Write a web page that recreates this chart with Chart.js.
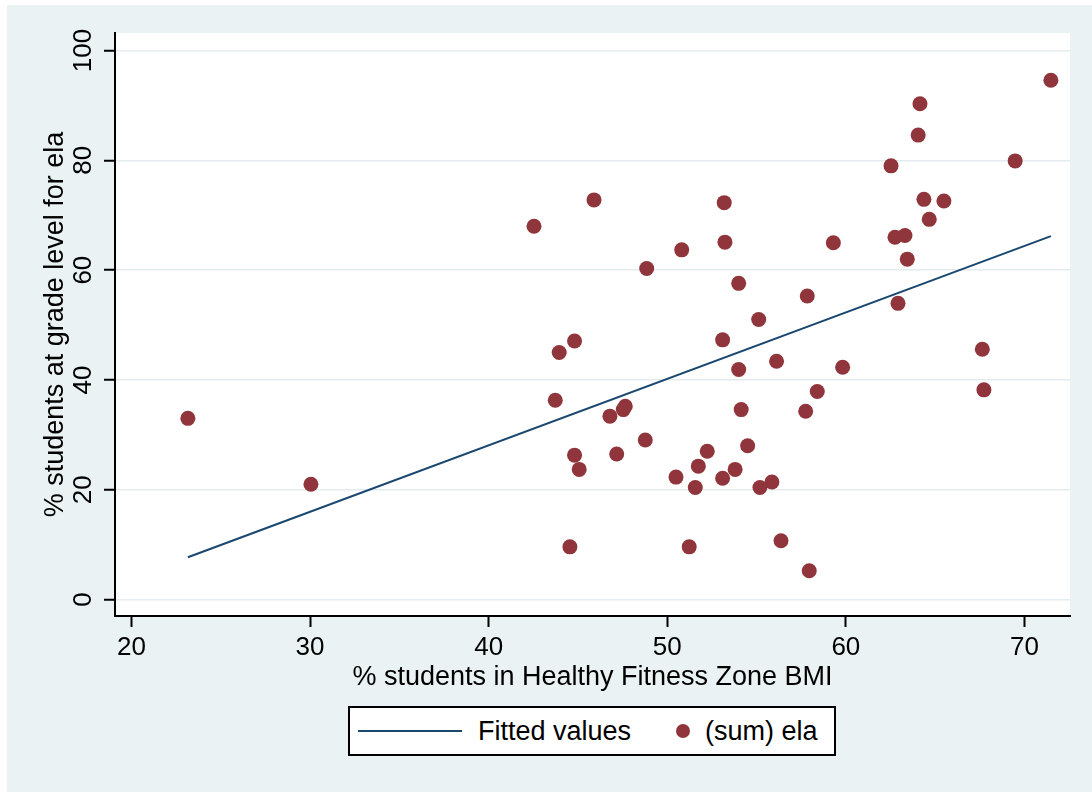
<!DOCTYPE html>
<html>
<head>
<meta charset="utf-8">
<script src="https://cdn.jsdelivr.net/npm/chart.js@4/dist/chart.umd.min.js"></script>
<style>
  body { margin: 0; background: #fff; }
  #wrap { position: relative; width: 1092px; height: 792px; }
  #legend {
    position: absolute; left: 348px; top: 706px; width: 484px; height: 46px;
    border: 2px solid #000; background: #fff;
    font-family: "Liberation Sans", Arial, sans-serif; font-size: 27px; color: #000;
  }
  #legend .item { position: absolute; top: 0; height: 46px; line-height: 46px; white-space: nowrap; }
</style>
</head>
<body>
<div id="wrap">
  <canvas id="scatterChart" width="1092" height="792"></canvas>
  <div id="legend"></div>
</div>
<script>
// % students in Healthy Fitness Zone BMI
const bmi = [23.16, 30.05, 42.54, 43.73, 43.95, 44.55, 44.81, 44.81, 45.07, 45.9,
  46.79, 47.17, 47.54, 47.65, 48.77, 48.85, 50.49, 50.81, 51.23, 51.57,
  51.74, 52.24, 53.1, 53.1, 53.19, 53.23, 53.8, 54.0, 54.0, 54.14,
  54.5, 55.12, 55.19, 55.86, 56.12, 56.37, 57.75, 57.84, 57.95, 58.4,
  59.3, 59.82, 62.53, 62.75, 62.92, 63.31, 63.44, 64.05, 64.15, 64.37,
  64.67, 65.49, 67.64, 67.73, 69.48, 71.48];

// % students at grade level for ela
const ela = [33.0, 21.0, 68.0, 36.3, 45.0, 9.6, 47.1, 26.3, 23.7, 72.8,
  33.4, 26.5, 34.6, 35.2, 29.05, 60.3, 22.3, 63.7, 9.6, 20.4,
  24.3, 27.0, 22.1, 47.3, 72.3, 65.1, 23.7, 57.6, 41.9, 34.6,
  28.0, 51.0, 20.4, 21.4, 43.4, 10.7, 34.3, 55.3, 5.25, 37.9,
  65.0, 42.3, 79.0, 66.0, 53.95, 66.3, 62.0, 84.6, 90.3, 72.9,
  69.25, 72.6, 45.6, 38.2, 79.9, 94.6];

// fitted line ends
const fitX = [23.16, 71.48];
const fitY = [7.7, 66.2];

const xTicks = [20, 30, 40, 50, 60, 70];
const yTicks = [0, 20, 40, 60, 80, 100];

const navy = '#1a476f';
const cranberry = '#90353b';
const bgColor = '#eaf2f3';
const fontFamily = '"Liberation Sans", Arial, sans-serif';

const backdrop = {
  id: 'backdrop',
  beforeDraw(chart) {
    const ctx = chart.ctx;
    const a = chart.chartArea;
    ctx.save();
    ctx.fillStyle = '#fff';
    ctx.fillRect(0, 0, chart.width, chart.height);
    ctx.fillStyle = bgColor;
    ctx.fillRect(7, 5, chart.width - 7, chart.height - 5);
    ctx.fillStyle = '#fff';
    ctx.fillRect(a.left, a.top, a.right - a.left, a.bottom - a.top);
    ctx.restore();
  }
};

const ctx = document.getElementById('scatterChart').getContext('2d');

const chart = new Chart(ctx, {
  type: 'scatter',
  data: {
    datasets: [
      {
        type: 'line',
        label: 'Fitted values',
        data: fitX.map((x, i) => ({x: x, y: fitY[i]})),
        borderColor: navy,
        borderWidth: 2,
        pointRadius: 0,
        fill: false,
        order: 1
      },
      {
        label: '(sum) ela',
        data: bmi.map((x, i) => ({x: x, y: ela[i]})),
        backgroundColor: cranberry,
        borderWidth: 0,
        pointRadius: 7.5,
        order: 0
      }
    ]
  },
  options: {
    responsive: false,
    animation: false,
    layout: { padding: { left: 0, top: 33, right: 22, bottom: 96 } },
    plugins: {
      legend: { display: false },
      tooltip: { enabled: false }
    },
    scales: {
      x: {
        type: 'linear',
        min: 19.08,
        max: 72.55,
        afterBuildTicks: s => { s.ticks = xTicks.map(v => ({value: v})); },
        afterFit: s => { s.height = 80; },
        border: { color: '#000', width: 2 },
        grid: { drawOnChartArea: false, drawTicks: true, tickLength: 11, tickColor: '#000', tickWidth: 2 },
        ticks: { color: '#000', padding: 5, maxRotation: 0, font: { family: fontFamily, size: 26 } },
        title: {
          display: true,
          text: '% students in Healthy Fitness Zone BMI',
          color: '#000',
          padding: { top: 0, bottom: 2 },
          font: { family: fontFamily, size: 27 }
        }
      },
      y: {
        type: 'linear',
        min: -3,
        max: 103.2,
        afterBuildTicks: s => { s.ticks = yTicks.map(v => ({value: v})); },
        afterFit: s => { s.width = 115; },
        border: { color: '#000', width: 2 },
        grid: { color: '#e3ecee', lineWidth: 1.5, drawTicks: true, tickLength: 11, tickColor: '#000', tickWidth: 2 },
        ticks: { color: '#000', padding: -2, minRotation: 90, maxRotation: 90, crossAlign: 'center', font: { family: fontFamily, size: 26 } },
        title: {
          display: true,
          text: '% students at grade level for ela',
          color: '#000',
          padding: { top: 39, bottom: 0 },
          font: { family: fontFamily, size: 27 }
        }
      }
    }
  },
  plugins: [backdrop]
});

// stata style legend box
const legend = document.getElementById('legend');
legend.innerHTML =
  '<span class="item" style="left:8px"><span style="position:absolute;left:0;top:22px;width:104px;height:2px;background:' + navy + '"></span></span>' +
  '<span class="item" style="left:128px">' + chart.data.datasets[0].label + '</span>' +
  '<span class="item" style="left:326px"><span style="position:absolute;left:0;top:16px;width:14px;height:14px;border-radius:50%;background:' + cranberry + '"></span></span>' +
  '<span class="item" style="left:355px">' + chart.data.datasets[1].label + '</span>';
</script>
</body>
</html>
